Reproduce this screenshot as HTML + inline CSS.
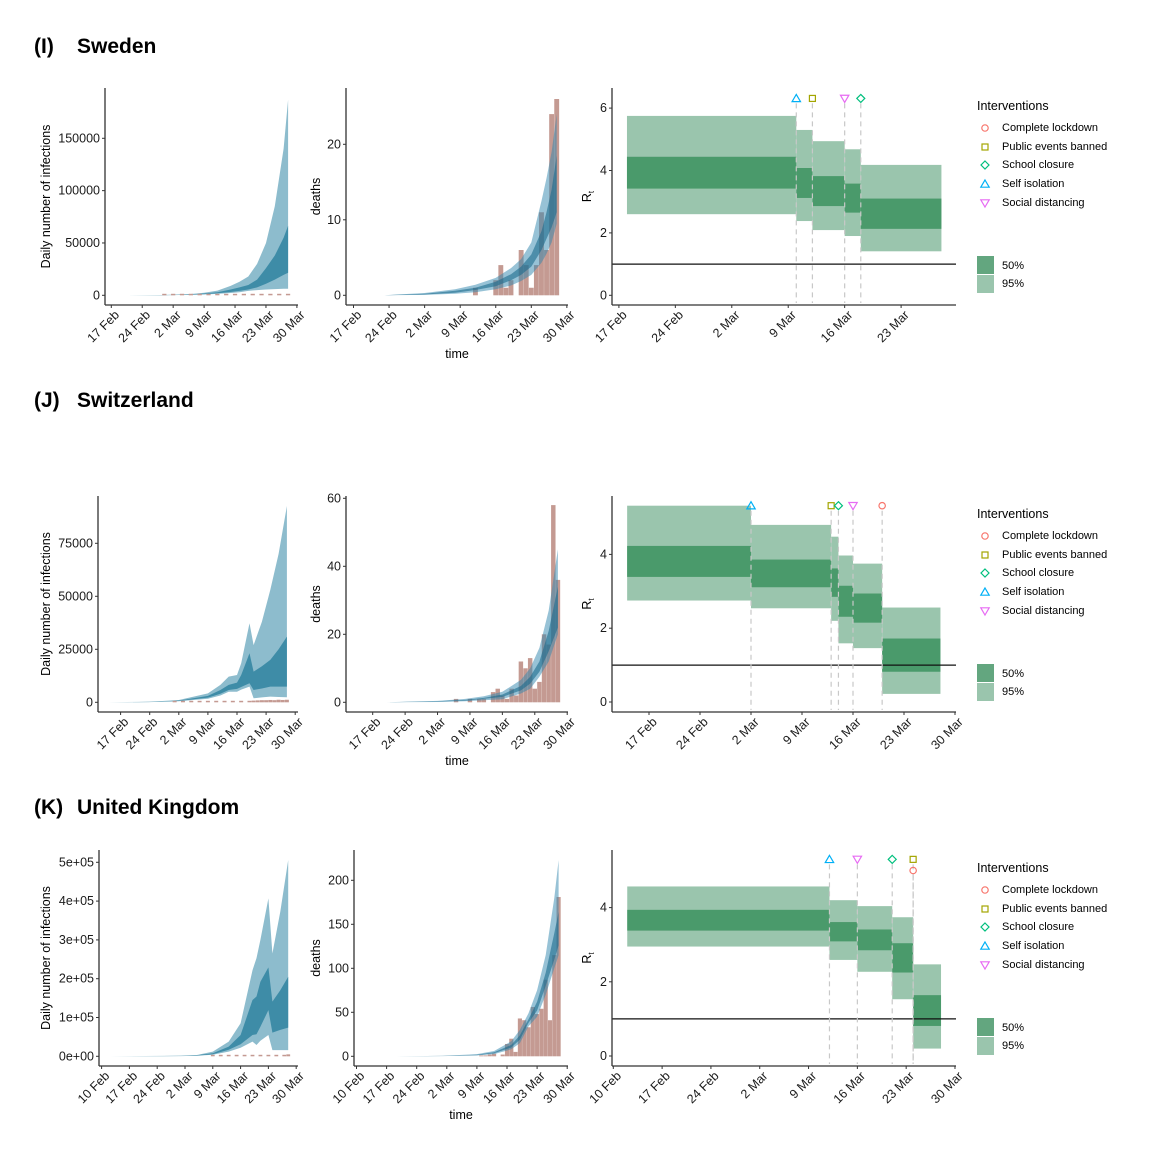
<!DOCTYPE html>
<html><head><meta charset="utf-8">
<style>
html,body{margin:0;padding:0;background:#fff;}
svg{display:block;font-family:"Liberation Sans",Arial,sans-serif;}
.tick{font-size:12.5px;fill:#1a1a1a;}
.ttl{font-size:12.5px;fill:#000;}
.leg{font-size:11px;fill:#000;}
.hdr{font-size:21px;font-weight:bold;fill:#000;}
</style></head>
<body>
<svg id="fig" width="1158" height="1164" viewBox="0 0 1158 1164">
<text class="hdr" x="34" y="53">(I)</text>
<text class="hdr" x="77" y="53">Sweden</text>
<text class="hdr" x="34" y="407">(J)</text>
<text class="hdr" x="77" y="407">Switzerland</text>
<text class="hdr" x="34" y="814">(K)</text>
<text class="hdr" x="77" y="814">United Kingdom</text>
</svg>
<script>
// ===== DATA (day index: Sweden/Switzerland from 17 Feb, UK from 10 Feb) =====
const febTickDays = [0,7,14,21,28,35,42];
const febTickLabels = ['17 Feb','24 Feb','2 Mar','9 Mar','16 Mar','23 Mar','30 Mar'];
const ukTickDays = [0,7,14,21,28,35,42,49];
const ukTickLabels = ['10 Feb','17 Feb','24 Feb','2 Mar','9 Mar','16 Mar','23 Mar','30 Mar'];

// Sweden
const seInfDays = [1,10,14,18,21,24,27,29,31,33,35,37,39,40];
const seInfU95 = [0,200,600,1200,2500,4500,9000,13000,18000,30000,50000,85000,140000,187000];
const seInfU50 = [0,150,400,900,1700,3000,5500,7500,9800,15000,26000,38000,55000,66500];
const seInfL50 = [0,100,300,600,1100,1900,3200,4200,5500,7500,11000,15000,19500,21600];
const seInfL95 = [0,80,200,450,800,1300,2200,3000,4200,5000,5500,5900,6200,6300];
const seCaseDays = [12,14,16,18,20,22,24,26,28,30,32,34,36,38,40];
const seCases = [10,20,60,100,150,160,120,100,150,120,140,200,250,300,350];
const seInfYTicks = [0,50000,100000,150000];
const seDthDays = [6,14,20,24,28,31,33,35,37,38,39,40];
const seDthU95 = [0,0.3,0.8,1.4,2.3,3.6,4.8,7,12.5,15.5,19,24];
const seDthU50 = [0,0.2,0.6,1.0,1.8,2.8,3.8,5.4,8.5,11,14,18.5];
const seDthL50 = [0,0.1,0.35,0.7,1.2,2.0,2.7,3.8,6,7.5,9,11];
const seDthL95 = [0,0.05,0.2,0.4,0.8,1.3,1.9,2.7,4.3,5.5,7,9.5];
const seBarDays = [24,25,26,27,28,29,30,31,32,33,34,35,36,37,38,39,40];
const seBars = [1,0,0,0,2,4,1,2,0,6,4,1,4,11,6,24,26];
const seDthYTicks = [0,10,20];
const seRStart = [1,22,24,28,30];
const seREnd = [22,24,28,30,40];
const seRU95 = [5.75,5.30,4.94,4.68,4.18];
const seRL95 = [2.60,2.38,2.09,1.90,1.41];
const seRU50 = [4.44,4.08,3.82,3.58,3.10];
const seRL50 = [3.42,3.12,2.86,2.65,2.13];
const seIntTypes = ['self','public','social','school'];
const seIntDays = [22,24,28,30];
const seIntR = [6.31,6.31,6.31,6.31];
const seRYTicks = [0,2,4,6];
const seRXTickDays = [0,7,14,21,28,35];

// Switzerland
const chInfDays = [-3,7,14,21,24,26,28,29,31,32,34,36,38,40];
const chInfU95 = [0,300,1100,4200,8200,12100,12900,18400,37300,27000,38000,53000,70000,92600];
const chInfU50 = [0,200,800,3000,5800,8200,9300,12900,23100,14500,17000,20000,25000,31000];
const chInfL50 = [0,150,600,2200,4000,5800,6300,7200,9000,5800,6500,7400,7400,7400];
const chInfL95 = [0,100,450,1700,3200,5000,5000,6000,7400,1900,2300,2700,2500,2400];
const chCaseDays = [13,15,17,19,21,23,25,27,29,31,32,33,34,35,36,37,38,39,40];
const chCases = [20,30,60,100,150,200,250,300,400,700,800,900,1000,1000,1100,1000,1200,1100,1200];
const chInfYTicks = [0,25000,50000,75000];
const chDthDays = [3,14,20,24,28,32,34,36,38,40];
const chDthU95 = [0,0.4,1.0,1.8,3.1,6.6,10,16,27,45];
const chDthU50 = [0,0.3,0.7,1.3,2.3,4.8,7.5,12,21,34];
const chDthL50 = [0,0.2,0.5,1.0,1.6,3.5,5.5,9,15,22];
const chDthL95 = [0,0.1,0.3,0.6,0.9,2.6,4.0,7.5,12,20];
const chBarDays = [18,19,20,21,22,23,24,25,26,27,28,29,30,31,32,33,34,35,36,37,38,39,40];
const chBars = [1,0,0,1,0,1,1,0,3,4,2,1,4,2,12,10,13,4,6,20,17,58,36];
const chDthYTicks = [0,20,40,60];
const chRStart = [-3,14,25,26,28,32];
const chREnd = [14,25,26,28,32,40];
const chRU95 = [5.32,4.80,4.48,3.97,3.75,2.56];
const chRL95 = [2.75,2.54,2.20,1.59,1.46,0.22];
const chRU50 = [4.23,3.86,3.62,3.15,2.94,1.72];
const chRL50 = [3.39,3.11,2.85,2.31,2.15,0.82];
const chIntTypes = ['self','public','school','social','lockdown'];
const chIntDays = [14,25,26,28,32];
const chIntR = [5.32,5.32,5.32,5.32,5.32];
const chRYTicks = [0,2,4];

// United Kingdom
const ukInfDays = [2,20,24,28,32,35,38,39,40,42,43,45,47];
const ukInfU95 = [0,1500,3400,12000,38000,85000,222000,253000,300000,407000,265000,373000,506000];
const ukInfU50 = [0,1000,2500,8000,25000,55000,145000,154000,192000,229000,141000,170000,205000];
const ukInfL50 = [0,700,1800,5500,17000,31000,55000,57000,76000,119000,61000,68000,74000];
const ukInfL95 = [0,500,1300,4000,12000,22000,38000,29000,40000,55000,16000,16000,16000];
const ukCaseDays = [28,30,32,34,36,38,40,42,44,46,47];
const ukCases = [100,200,300,500,700,900,1200,1500,2000,2500,5000];
const ukInfYTicks = [0,100000,200000,300000,400000,500000];
const ukInfYLabels = ['0e+00','1e+05','2e+05','3e+05','4e+05','5e+05'];
const ukDthDays = [9,20,28,32,36,38,40,42,44,46,47];
const ukDthU95 = [0,0.5,2.5,6,17,30,49,75,115,180,223];
const ukDthU50 = [0,0.4,1.8,4.5,13,24,42,62,95,140,164];
const ukDthL50 = [0,0.3,1.3,3.5,10,19,38,52,80,110,126];
const ukDthL95 = [0,0.2,1.0,2.5,8,15,34,45,70,100,115];
const ukBarDays = [29,30,31,32,33,34,35,36,37,38,39,40,41,42,43,44,45,46,47];
const ukBars = [1,1,2,3,0,2,14,20,5,43,41,33,56,48,54,87,41,115,181];
const ukDthYTicks = [0,50,100,150,200];
const ukRStart = [2,31,35,40,43];
const ukREnd = [31,35,40,43,47];
const ukRU95 = [4.57,4.20,4.04,3.74,2.47];
const ukRL95 = [2.95,2.59,2.27,1.53,0.20];
const ukRU50 = [3.94,3.61,3.41,3.04,1.64];
const ukRL50 = [3.38,3.09,2.85,2.25,0.81];
const ukIntTypes = ['self','social','school','public','lockdown'];
const ukIntDays = [31,35,40,43,43];
const ukIntR = [5.30,5.30,5.30,5.30,5.00];
const ukRYTicks = [0,2,4];

const legendTypes = ['lockdown','public','school','self','social'];
const legendLabels = ['Complete lockdown','Public events banned','School closure','Self isolation','Social distancing'];

// ===== RENDERING =====
const NS='http://www.w3.org/2000/svg';
const svg=document.getElementById('fig');
function mk(tag,attrs,parent){const e=document.createElementNS(NS,tag);for(const k in attrs)e.setAttribute(k,attrs[k]);(parent||svg).appendChild(e);return e;}
const COL={lockdown:'#F8766D',public:'#A3A500',school:'#00BF7D',self:'#00B0F6',social:'#E76BF3'};

function scales(p){return {x:d=>p.x0+d*p.kx, y:v=>p.y0-v*p.ky};}

function drawAxes(p,prefix,yTicks,yLabels,xDays,xLabels){
  const s=scales(p);
  const g=mk('g',{});
  
  
  const ya=mk('line',{x1:p.ax,y1:p.top,x2:p.ax,y2:p.ay,stroke:'#333','stroke-width':1.3},g);
  
  
  const xa=mk('line',{x1:p.ax,y1:p.ay,x2:p.right,y2:p.ay,stroke:'#333','stroke-width':1.3},g);
  
  
  yTicks.forEach((v,i)=>{
    const y=s.y(v);
    mk('line',{x1:p.ax-3,y1:y,x2:p.ax,y2:y,stroke:'#333','stroke-width':1},g);
    const t=mk('text',{x:p.ax-5,y:y,'text-anchor':'end','dominant-baseline':'central',class:'tick'},g);
    t.textContent=yLabels?yLabels[i]:String(v);
    
    
  });
  xDays.forEach((d,i)=>{
    const x=s.x(d);
    mk('line',{x1:x,y1:p.ay,x2:x,y2:p.ay+3,stroke:'#333','stroke-width':1},g);
    const t=mk('text',{transform:'translate('+(x+2)+','+(p.ay+4)+') rotate(-45)','text-anchor':'end',dy:'0.75em',class:'tick'},g);
    t.textContent=xLabels[i];
    
    
  });
}

function band(p,days,lo,hi,fill,op,name){
  const s=scales(p);
  let pts=[];
  for(let i=0;i<days.length;i++)pts.push(s.x(days[i]).toFixed(1)+','+s.y(hi[i]).toFixed(1));
  for(let i=days.length-1;i>=0;i--)pts.push(s.x(days[i]).toFixed(1)+','+s.y(lo[i]).toFixed(1));
  const e=mk('polygon',{points:pts.join(' '),fill:fill,'fill-opacity':op});
  
  
}

function bars(p,days,vals,name,minH){
  const s=scales(p);
  days.forEach((d,i)=>{
    if(vals[i]<=0)return;
    const y=s.y(vals[i]);let h=p.y0-y;if(h<minH)h=minH;
    const e=mk('rect',{x:s.x(d-0.48),y:p.y0-h,width:p.kx*0.96,height:h,fill:'#c49a92'});
    
    
  });
}

function rSteps(p,prefix,st,en,u95,l95,u50,l50){
  const s=scales(p);
  st.forEach((a,i)=>{
    const e=mk('rect',{x:s.x(a),y:s.y(u95[i]),width:s.x(en[i])-s.x(a),height:s.y(l95[i])-s.y(u95[i]),fill:'#9ac5ad'});
    
    
  });
  st.forEach((a,i)=>{
    const e=mk('rect',{x:s.x(a),y:s.y(u50[i]),width:s.x(en[i])-s.x(a),height:s.y(l50[i])-s.y(u50[i]),fill:'#4a9a6b'});
    
    
  });
  const h=mk('line',{x1:p.ax,y1:s.y(1),x2:p.right,y2:s.y(1),stroke:'#111','stroke-width':1.2});
  
  
}

function marker(type,cx,cy,parent){
  const c=COL[type];const a={fill:'none',stroke:c,'stroke-width':1.2};
  let e;
  if(type==='lockdown'){e=mk('circle',Object.assign({cx:cx,cy:cy,r:3.2},a),parent);}
  else if(type==='public'){e=mk('rect',Object.assign({x:cx-3,y:cy-3,width:6,height:6},a),parent);}
  else if(type==='school'){e=mk('polygon',Object.assign({points:[cx,cy-4,cx+4,cy,cx,cy+4,cx-4,cy].join(',')},a),parent);}
  else if(type==='self'){e=mk('polygon',Object.assign({points:[cx,cy-4,cx+4.2,cy+3.2,cx-4.2,cy+3.2].join(',')},a),parent);}
  else {e=mk('polygon',Object.assign({points:[cx,cy+4,cx+4.2,cy-3.2,cx-4.2,cy-3.2].join(',')},a),parent);}
  return e;
}

function interventions(p,prefix,types,days,rs){
  const s=scales(p);
  days.forEach((d,i)=>{
    const x=s.x(d);
    const l=mk('line',{x1:x,y1:s.y(rs[i])+5,x2:x,y2:p.ay-2,stroke:'#c8c8c8','stroke-width':1.2,'stroke-dasharray':'5,4'});
    
    
  });
  days.forEach((d,i)=>{
    const m=marker(types[i],s.x(d),s.y(rs[i]));
    
    
  });
}

function legend(prefix,top){
  const g=mk('g',{});
  
  
  const t=mk('text',{x:977,y:top,'dominant-baseline':'central',class:'ttl'},g);
  t.textContent='Interventions';
  
  
  const offs=[22,41,59,78,97];
  legendTypes.forEach((ty,i)=>{
    const y=top+offs[i];
    const m=marker(ty,985,y,g);
    
    
    const tx=mk('text',{x:1002,y:y,'dominant-baseline':'central',class:'leg'},g);
    tx.textContent=legendLabels[i];
    
    
  });
  const b1=mk('rect',{x:977,y:top+150,width:17,height:18,fill:'#63a67f'},g);
  
  
  const b2=mk('rect',{x:977,y:top+169,width:17,height:18,fill:'#9ac5ad'},g);
  
  
  const t1=mk('text',{x:1002,y:top+160,'dominant-baseline':'central',class:'leg'},g);
  t1.textContent='50%';
  
  
  const t2=mk('text',{x:1002,y:top+178,'dominant-baseline':'central',class:'leg'},g);
  t2.textContent='95%';
  
  
}

function titles(prefix,pInf,pDth,pR,timeY){
  const cy=(pInf.top+pInf.ay)/2;
  const a=mk('text',{transform:'translate(50,'+cy+') rotate(-90)','text-anchor':'middle',class:'ttl'});
  a.textContent='Daily number of infections';
  
  
  const b=mk('text',{transform:'translate(320,'+cy+') rotate(-90)','text-anchor':'middle',class:'ttl'});
  b.textContent='deaths';
  
  
  const c=mk('text',{transform:'translate(591,'+cy+') rotate(-90)','text-anchor':'middle',class:'ttl'});
  c.innerHTML='R<tspan font-size="8" dy="3">t</tspan>';
  
  
  const d=mk('text',{x:(pDth.ax+pDth.right)/2,y:timeY,'text-anchor':'middle',class:'ttl'});
  d.textContent='time';
  
  
}

function row(prefix,P,D,ticks){
  const [pI,pD,pR]=P;
  band(pI,D.infDays,D.infL95,D.infU95,'#8dbccd',1,prefix+'-infections-95-band');
  band(pI,D.infDays,D.infL50,D.infU50,'#3e8ca7',1,prefix+'-infections-50-band');
  bars(pI,D.caseDays,D.cases,prefix+'-case-bar',1.5);
  drawAxes(pI,prefix+'-infections',D.infYTicks,D.infYLabels,ticks.days,ticks.labels);
  bars(pD,D.barDays,D.bars,prefix+'-death-bar',0);
  band(pD,D.dthDays,D.dthL95,D.dthU95,'#2f86ad',0.5,prefix+'-deaths-95-band');
  band(pD,D.dthDays,D.dthL50,D.dthU50,'#1d6a8c',0.6,prefix+'-deaths-50-band');
  drawAxes(pD,prefix+'-deaths',D.dthYTicks,null,ticks.days,ticks.labels);
  rSteps(pR,prefix,D.rS,D.rE,D.rU95,D.rL95,D.rU50,D.rL50);
  interventions(pR,prefix,D.intT,D.intD,D.intR);
  drawAxes(pR,prefix+'-rt',D.rYTicks,null,ticks.rDays,ticks.rLabels);
}

const SE=[{ax:105,ay:305,top:88,right:298,x0:111.3,kx:4.419,y0:295.3,ky:157/150000},
          {ax:346,ay:305,top:88,right:568,x0:353.5,kx:5.08,y0:295.3,ky:7.55},
          {ax:612,ay:305,top:88,right:956,x0:618.9,kx:8.063,y0:295.3,ky:31.2}];
const CH=[{ax:98,ay:712,top:496,right:298,x0:120.6,kx:4.157,y0:702.3,ky:159/75000},
          {ax:346,ay:712,top:496,right:568,x0:372.7,kx:4.631,y0:702.3,ky:3.4},
          {ax:612,ay:712,top:496,right:956,x0:649,kx:7.286,y0:702,ky:36.9}];
const UK=[{ax:99,ay:1066,top:850,right:298,x0:101.6,kx:3.971,y0:1056.3,ky:194/500000},
          {ax:354,ay:1066,top:850,right:568,x0:356.5,kx:4.300,y0:1056.3,ky:0.88},
          {ax:612,ay:1066,top:850,right:956,x0:613.3,kx:6.973,y0:1056,ky:37.1}];

row('sweden',SE,{infDays:seInfDays,infU95:seInfU95,infU50:seInfU50,infL50:seInfL50,infL95:seInfL95,caseDays:seCaseDays,cases:seCases,infYTicks:seInfYTicks,infYLabels:null,
  dthDays:seDthDays,dthU95:seDthU95,dthU50:seDthU50,dthL50:seDthL50,dthL95:seDthL95,barDays:seBarDays,bars:seBars,dthYTicks:seDthYTicks,
  rS:seRStart,rE:seREnd,rU95:seRU95,rL95:seRL95,rU50:seRU50,rL50:seRL50,intT:seIntTypes,intD:seIntDays,intR:seIntR,rYTicks:seRYTicks},
  {days:febTickDays,labels:febTickLabels,rDays:seRXTickDays,rLabels:febTickLabels.slice(0,6)});
row('switzerland',CH,{infDays:chInfDays,infU95:chInfU95,infU50:chInfU50,infL50:chInfL50,infL95:chInfL95,caseDays:chCaseDays,cases:chCases,infYTicks:chInfYTicks,infYLabels:null,
  dthDays:chDthDays,dthU95:chDthU95,dthU50:chDthU50,dthL50:chDthL50,dthL95:chDthL95,barDays:chBarDays,bars:chBars,dthYTicks:chDthYTicks,
  rS:chRStart,rE:chREnd,rU95:chRU95,rL95:chRL95,rU50:chRU50,rL50:chRL50,intT:chIntTypes,intD:chIntDays,intR:chIntR,rYTicks:chRYTicks},
  {days:febTickDays,labels:febTickLabels,rDays:febTickDays,rLabels:febTickLabels});
row('uk',UK,{infDays:ukInfDays,infU95:ukInfU95,infU50:ukInfU50,infL50:ukInfL50,infL95:ukInfL95,caseDays:ukCaseDays,cases:ukCases,infYTicks:ukInfYTicks,infYLabels:ukInfYLabels,
  dthDays:ukDthDays,dthU95:ukDthU95,dthU50:ukDthU50,dthL50:ukDthL50,dthL95:ukDthL95,barDays:ukBarDays,bars:ukBars,dthYTicks:ukDthYTicks,
  rS:ukRStart,rE:ukREnd,rU95:ukRU95,rL95:ukRL95,rU50:ukRU50,rL50:ukRL50,intT:ukIntTypes,intD:ukIntDays,intR:ukIntR,rYTicks:ukRYTicks},
  {days:ukTickDays,labels:ukTickLabels,rDays:ukTickDays,rLabels:ukTickLabels});

titles('sweden',SE[0],SE[1],SE[2],358);
titles('switzerland',CH[0],CH[1],CH[2],765);
titles('uk',UK[0],UK[1],UK[2],1119);
legend('sweden',106);
legend('switzerland',514);
legend('uk',868);
</script>
</body></html>
